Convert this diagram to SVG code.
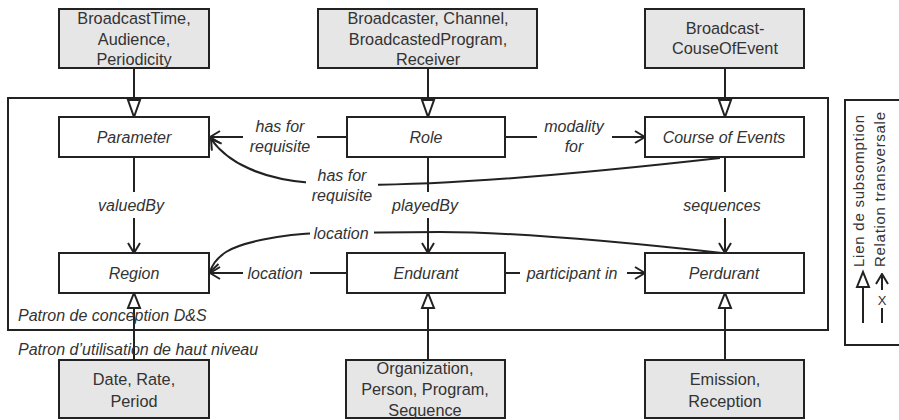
<svg xmlns="http://www.w3.org/2000/svg" width="899" height="420" viewBox="0 0 899 420">
<defs>
<style>
.node rect{fill:#fff;stroke:#222;stroke-width:2}
.gray rect{fill:#e6e6e6;stroke:#222;stroke-width:2}
text{font-family:"Liberation Sans",Arial,sans-serif;fill:#333}
.nt{font-size:16.3px;text-anchor:middle}
.it{font-size:16px;font-style:italic;text-anchor:middle}
.pt{font-size:16px;font-style:italic}
.lg{font-size:15px}
.e{fill:none;stroke:#222;stroke-width:2}
.sub{fill:#fff;stroke:#222;stroke-width:2}
</style>
<marker id="open" viewBox="0 0 12 14" refX="11" refY="7" markerWidth="12" markerHeight="14" markerUnits="userSpaceOnUse" orient="auto">
<path d="M1,1 L11,7 L1,13" fill="none" stroke="#222" stroke-width="2"/>
</marker>
</defs>
<rect width="899" height="420" fill="#fff"/>
<rect x="8" y="98" width="820" height="232" fill="none" stroke="#222" stroke-width="2"/>
<g id="connectors">
<path class="e" d="M134,68 V100 M428,68 V100 M725,68 V100"/>
<polygon class="sub" points="128,100 140,100 134,117"/>
<polygon class="sub" points="422,100 434,100 428,117"/>
<polygon class="sub" points="719,100 731,100 725,117"/>
<path class="e" d="M134,360 V308 M428,360 V308 M725,360 V308"/>
<polygon class="sub" points="128,308 140,308 134,293"/>
<polygon class="sub" points="422,308 434,308 428,293"/>
<polygon class="sub" points="719,308 731,308 725,293"/>
<path class="e" d="M347,137 H317 M243,137 H210" marker-end="url(#open)"/>
<path class="e" d="M505,137 H537 M612,137 H645" marker-end="url(#open)"/>
<path class="e" d="M134,157 V192 M134,218 V253" marker-end="url(#open)"/>
<path class="e" d="M428,157 V192 M428,218 V253" marker-end="url(#open)"/>
<path class="e" d="M725,157 V192 M725,218 V253" marker-end="url(#open)"/>
<path class="e" d="M347,273 H310 M243,273 H210" marker-end="url(#open)"/>
<path class="e" d="M505,273 H520 M627,273 H645" marker-end="url(#open)"/>
<path class="e" d="M720,158 C560,176 400,190 312,183 C262,179 228,163 211,139" marker-end="url(#open)"/>
<path class="e" d="M722,253 C650,245 520,232 440,232 L320,233 C280,234 240,243 226,252 C217,258 212,265 210,272" marker-end="url(#open)"/>
<rect x="306" y="164" width="72" height="40" fill="#fff"/>
<rect x="310" y="222" width="64" height="22" fill="#fff"/>
<text class="it" x="280" y="132">has for</text>
<text class="it" x="280" y="152">requisite</text>
<text class="it" x="574" y="132">modality</text>
<text class="it" x="574" y="152">for</text>
<text class="it" x="342" y="181">has for</text>
<text class="it" x="342" y="201">requisite</text>
<text class="it" x="131" y="211">valuedBy</text>
<text class="it" x="425" y="211">playedBy</text>
<text class="it" x="722" y="211">sequences</text>
<text class="it" x="341" y="239">location</text>
<text class="it" x="275" y="279">location</text>
<text class="it" x="572" y="279">participant in</text>
</g>
<g id="n-broadcasttime" class="gray"><rect x="59" y="9" width="150" height="59"/>
<text class="nt" x="134" y="24">BroadcastTime,</text><text class="nt" x="134" y="45">Audience,</text><text class="nt" x="134" y="65">Periodicity</text></g>
<g id="n-broadcaster" class="gray"><rect x="318" y="9" width="219" height="59"/>
<text class="nt" x="428" y="24">Broadcaster, Channel,</text><text class="nt" x="428" y="45">BroadcastedProgram,</text><text class="nt" x="428" y="65">Receiver</text></g>
<g id="n-broadcastcourse" class="gray"><rect x="645" y="9" width="159" height="59"/>
<text class="nt" x="725" y="34">Broadcast-</text><text class="nt" x="725" y="54">CouseOfEvent</text></g>
<g id="n-parameter" class="node"><rect x="59" y="117" width="150" height="40"/><text class="it" x="134" y="143">Parameter</text></g>
<g id="n-role" class="node"><rect x="347" y="117" width="158" height="40"/><text class="it" x="426" y="143">Role</text></g>
<g id="n-course" class="node"><rect x="645" y="117" width="159" height="40"/><text class="it" x="724" y="143">Course of Events</text></g>
<g id="n-region" class="node"><rect x="59" y="253" width="150" height="40"/><text class="it" x="134" y="279">Region</text></g>
<g id="n-endurant" class="node"><rect x="347" y="253" width="158" height="40"/><text class="it" x="426" y="279">Endurant</text></g>
<g id="n-perdurant" class="node"><rect x="645" y="253" width="159" height="40"/><text class="it" x="724" y="279">Perdurant</text></g>
<g id="n-date" class="gray"><rect x="59" y="360" width="150" height="58"/>
<text class="nt" x="134" y="385">Date, Rate,</text><text class="nt" x="134" y="407">Period</text></g>
<g id="n-organization" class="gray"><rect x="346" y="360" width="159" height="58"/>
<text class="nt" x="425" y="374">Organization,</text><text class="nt" x="425" y="395">Person, Program,</text><text class="nt" x="425" y="416">Sequence</text></g>
<g id="n-emission" class="gray"><rect x="645" y="360" width="159" height="58"/>
<text class="nt" x="725" y="385">Emission,</text><text class="nt" x="725" y="407">Reception</text></g>
<text class="pt" x="18" y="321">Patron de conception D&amp;S</text>
<text class="pt" x="18" y="355">Patron d’utilisation de haut niveau</text>
<g id="legend">
<rect x="845" y="100" width="60" height="245" fill="#fff" stroke="#222" stroke-width="2"/>
<text class="lg" transform="translate(864,267) rotate(-90)" textLength="152" lengthAdjust="spacing">Lien de subsomption</text>
<text class="lg" transform="translate(885,267) rotate(-90)" textLength="155" lengthAdjust="spacing">Relation transversale</text>
<path class="e" d="M863,323 V287"/>
<polygon class="sub" points="857,287 869,287 863,272"/>
<path class="e" d="M882,290 V274" marker-end="url(#open)"/>
<path class="e" d="M882,308 V323"/>
<text class="lg" x="882" y="305" text-anchor="middle" style="font-size:13px">X</text>
</g>
</svg>
